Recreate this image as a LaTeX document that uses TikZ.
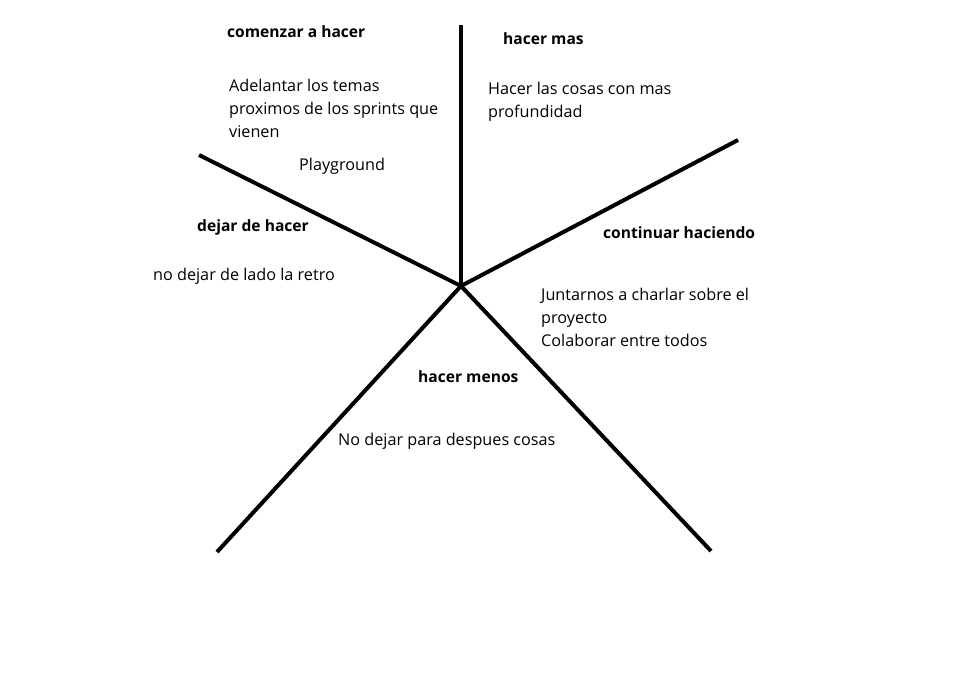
\documentclass[tikz,border=0pt]{standalone}
\usepackage{fontspec}
\setmainfont{Open Sans}
\begin{document}
\begin{tikzpicture}[x=1pt,y=-1pt,
  ray/.style={line width=4pt},
  lbl/.style={anchor=west,inner sep=0pt,font=\fontsize{16.2}{23}\selectfont,align=left},
  ttl/.style={lbl,font=\fontsize{15.6}{23}\selectfont\bfseries}]
\useasboundingbox[fill=white] (0,0) rectangle (976,689);
\coordinate (c) at (461,286);
\coordinate (p1) at (461,25);
\coordinate (p2) at (738,140);
\coordinate (p3) at (711,551);
\coordinate (p4) at (217,552);
\coordinate (p5) at (199,155);
\foreach \p in {p1,p2,p3,p4,p5} \draw[ray] (c) -- (\p);
\node[ttl] (t1) at (227,32) {comenzar a hacer};
\node[lbl,anchor=north west] (a1) at (229,79) {Adelantar los temas\\proximos de los sprints que\\vienen};
\node[lbl] (a2) at (299,166) {Playground};
\node[ttl] (t2) at (503,39) {hacer mas};
\node[lbl,anchor=north west] (b1) at (488,82) {Hacer las cosas con mas\\profundidad};
\node[ttl] (t3) at (197,227) {dejar de hacer};
\node[lbl] (c1) at (153,276) {no dejar de lado la retro};
\node[ttl] (t4) at (603,233) {continuar haciendo};
\node[lbl,anchor=north west] (d1) at (541,288) {Juntarnos a charlar sobre el\\proyecto\\Colaborar entre todos};
\node[ttl] (t5) at (418,377) {hacer menos};
\node[lbl] (e1) at (338,441) {No dejar para despues cosas};
\end{tikzpicture}
\end{document}
